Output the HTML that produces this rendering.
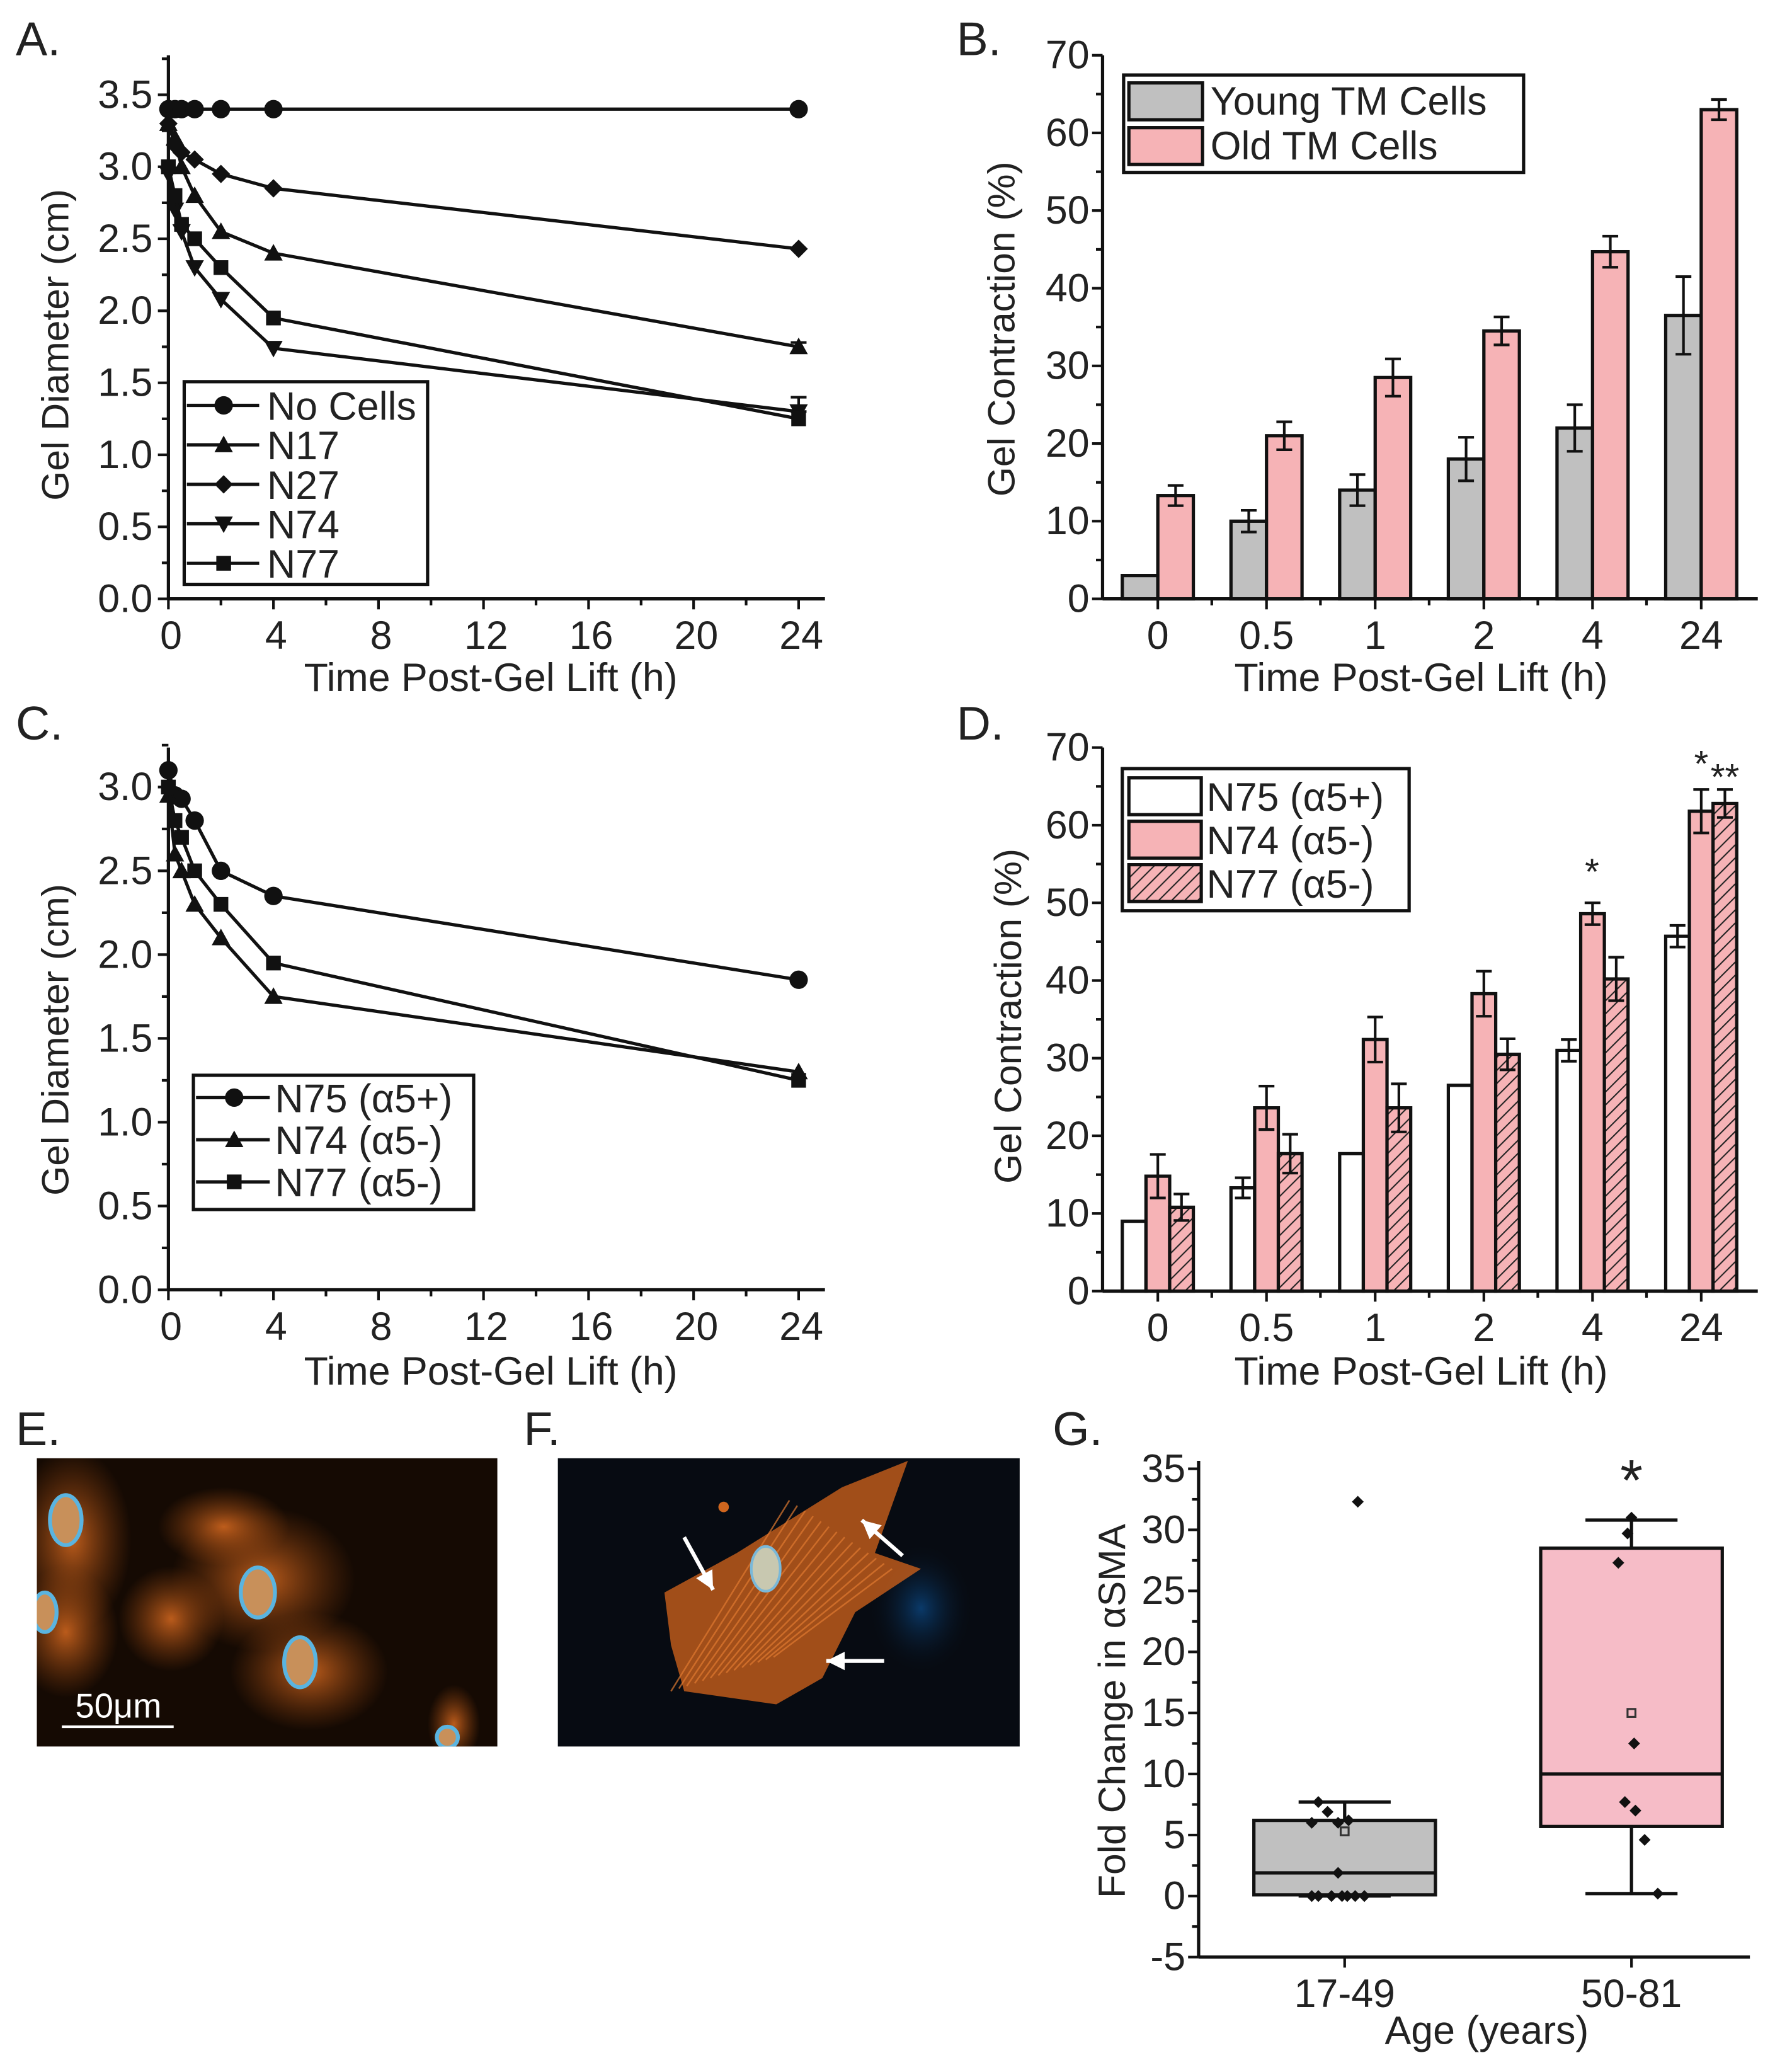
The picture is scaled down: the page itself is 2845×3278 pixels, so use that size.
<!DOCTYPE html>
<html><head><meta charset="utf-8"><style>
html,body{margin:0;padding:0;background:#fff;}
svg{display:block;}
text{font-family:"Liberation Sans",sans-serif;fill:#222;}
</style></head><body>
<svg id="fig" width="2845" height="3278" viewBox="0 0 1362 1569" preserveAspectRatio="none" xmlns="http://www.w3.org/2000/svg">
<defs>
<pattern id="hatch" patternUnits="userSpaceOnUse" width="7" height="7" patternTransform="rotate(45)">
<rect width="7" height="7" fill="#f6b3b6"/><line x1="0" y1="0" x2="0" y2="7" stroke="#222" stroke-width="2"/></pattern>
<radialGradient id="og" cx="50%" cy="50%" r="50%"><stop offset="0" stop-color="#d86a20" stop-opacity="0.85"/><stop offset="1" stop-color="#a04a10" stop-opacity="0"/></radialGradient>
<radialGradient id="bg2" cx="50%" cy="50%" r="50%"><stop offset="0" stop-color="#0a3a6a"/><stop offset="1" stop-color="#070c14" stop-opacity="0"/></radialGradient>
</defs>
<g id="root"></g>
</svg>
<script>
// ---- Panel A data ----
const timesA=[0,0.25,0.5,1,2,4,24];
const noCells=[3.4,3.4,3.4,3.4,3.4,3.4,3.4];
const n17=[3.3,3.2,3.0,2.8,2.55,2.4,1.75];
const n27=[3.3,3.15,3.1,3.05,2.95,2.85,2.43];
const n74=[2.95,2.7,2.55,2.3,2.08,1.74,1.3];
const n77=[3.0,2.8,2.6,2.5,2.3,1.95,1.25];
// ---- Panel C data ----
const n75c=[3.1,2.95,2.93,2.8,2.5,2.35,1.85];
const n74c=[2.95,2.6,2.5,2.3,2.1,1.75,1.3];
const n77c=[3.0,2.8,2.7,2.5,2.3,1.95,1.25];
// ---- Panel B data ----
const catsB=["0","0.5","1","2","4","24"];
const young=[3,10,14,18,22,36.5];
const youngErr=[0,1.4,2,2.8,3,5];
const old=[13.3,21,28.5,34.5,44.7,63];
const oldErr=[1.3,1.8,2.4,1.8,2,1.3];
// ---- Panel D data ----
const n75d=[9,13.3,17.7,26.5,31,45.7];
const n75dErr=[0,1.3,0,0,1.4,1.4];
const n74d=[14.8,23.6,32.4,38.3,48.6,61.8];
const n74dErr=[2.8,2.8,2.9,2.9,1.4,2.8];
const n77d=[10.8,17.7,23.6,30.5,40.2,62.8];
const n77dErr=[1.7,2.5,3.1,2,2.8,1.8];
// ---- Panel G data ----
const groupsG=["17-49","50-81"];
const q1=[0.1,5.7];
const q3=[6.2,28.5];
const med=[1.9,10];
const whiskLo=[0,0.2];
const whiskHi=[7.7,30.8];
const meanG=[5.3,15];
const pts1=[0,0,0,0,0,0,0,1.9,6,6,6.2,6.9,7.7,32.3];
const pts2=[0.2,4.6,7,7.7,12.5,27.3,29.7,31];

const NS="http://www.w3.org/2000/svg";
const root=document.getElementById('root');
function el(tag,attrs,parent,txt){const e=document.createElementNS(NS,tag);for(const k in attrs)e.setAttribute(k,attrs[k]);if(txt!==undefined)e.textContent=txt;(parent||root).appendChild(e);return e;}
function grp(name){const g=el('g',{});return g;}
function txt(g,x,y,s,size,anchor,name){const t=el('text',{x:x,y:y,'font-size':size,'text-anchor':anchor||'middle'},g,s);return t;}
function vtitle(g,cx,cy,s,name){const t=el('text',{x:0,y:0,'font-size':29,'text-anchor':'middle',transform:`translate(${cx} ${cy}) rotate(-90)`,'dominant-baseline':'central'},g,s);return t;}

function marker(g,type,x,y,r){
  r=r||7;
  if(type==='circle')return el('circle',{cx:x,cy:y,r:r,fill:'#111'},g);
  if(type==='up')return el('polygon',{points:`${x},${y-r} ${x+r},${y+r*0.8} ${x-r},${y+r*0.8}`,fill:'#111'},g);
  if(type==='down')return el('polygon',{points:`${x},${y+r} ${x+r},${y-r*0.8} ${x-r},${y-r*0.8}`,fill:'#111'},g);
  if(type==='diamond')return el('polygon',{points:`${x},${y-r} ${x+r},${y} ${x},${y+r} ${x-r},${y}`,fill:'#111'},g);
  if(type==='square')return el('rect',{x:x-r*0.8,y:y-r*0.8,width:r*1.6,height:r*1.6,fill:'#111'},g);
}

function lineAxes(g,x0,x1,yTop,y0,yMaxVal,yTicks,yStep){
  const sx=v=>x0+(v)*(607-x0)/24;
  const sy=v=>y0-v*(y0-yTop)/yMaxVal;
  el('line',{x1:x0,y1:y0,x2:x1,y2:y0,stroke:'#111','stroke-width':2.5},g);
  el('line',{x1:x0,y1:y0,x2:x0,y2:sy(yMaxVal)-30,stroke:'#111','stroke-width':2.5},g);
  for(let v=0;v<=24;v+=2){const x=sx(v);el('line',{x1:x,y1:y0,x2:x,y2:y0+(v%4===0?8:5),stroke:'#111','stroke-width':2},g);}
  [0,4,8,12,16,20,24].forEach(v=>txt(g,sx(v)+2,y0+38,String(v),30,'middle','x-tick-label'));
  yTicks.forEach(v=>{const y=sy(v);el('line',{x1:x0-8,y1:y,x2:x0,y2:y,stroke:'#111','stroke-width':2},g);el('line',{x1:x0-5,y1:sy(v+yStep/2),x2:x0,y2:sy(v+yStep/2),stroke:'#111','stroke-width':2},g);txt(g,x0-12,y+10,v.toFixed(1),30,'end','y-tick-label');});
  return {sx,sy};
}
function series(g,name,xs,ys,type,sx,sy){
  const s=el('g',{},g);
  el('polyline',{points:xs.map((x,i)=>sx(x)+','+sy(ys[i])).join(' '),fill:'none',stroke:'#111','stroke-width':2.5},s);
  xs.forEach((x,i)=>{const m=marker(s,type,sx(x),sy(ys[i]),7);});
}
function legendBox(g,x,y,w,h){el('rect',{x:x,y:y,width:w,height:h,fill:'#fff',stroke:'#111','stroke-width':2.5},g);}

// ===== Panel A =====
(function(){
  const g=grp('panel-a');
  txt(g,12,42,'A.',36,'start','panel-label-a');
  const {sx,sy}=lineAxes(g,128,627,72,455,3.5,[0,0.5,1,1.5,2,2.5,3,3.5],0.5);
  series(g,'series-no-cells',timesA,noCells,'circle',sx,sy);
  series(g,'series-n17',timesA,n17,'up',sx,sy);
  series(g,'series-n27',timesA,n27,'diamond',sx,sy);
  series(g,'series-n74',timesA,n74,'down',sx,sy);
  series(g,'series-n77',timesA,n77,'square',sx,sy);
  [[n74,0.1],[n77,0.05],[n17,0.03]].forEach(([a,e])=>{const x=sx(24);el('line',{x1:x,y1:sy(a[6]+e),x2:x,y2:sy(a[6]-e),stroke:'#111','stroke-width':2},g);el('line',{x1:x-6,y1:sy(a[6]+e),x2:x+6,y2:sy(a[6]+e),stroke:'#111','stroke-width':2},g);});
  vtitle(g,42,262,'Gel Diameter (cm)','y-axis-title');
  txt(g,373,525,'Time Post-Gel Lift (h)',30,'middle','x-axis-title');
  const L=grp('legend-a');legendBox(L,140,290,185,154);
  const items=[['No Cells','circle'],['N17','up'],['N27','diamond'],['N74','down'],['N77','square']];
  items.forEach((it,i)=>{const y=308+i*30;el('line',{x1:142,y1:y,x2:197,y2:y,stroke:'#111','stroke-width':2.5},L);marker(L,it[1],170,y,7);txt(L,203,y+11,it[0],30,'start','legend-entry');});
})();

// ===== Panel C =====
(function(){
  const g=grp('panel-c');
  txt(g,12,562,'C.',36,'start','panel-label-c');
  const {sx,sy}=lineAxes(g,128,627,598,980,3.0,[0,0.5,1,1.5,2,2.5,3],0.5);
  series(g,'series-n75',timesA,n75c,'circle',sx,sy);
  series(g,'series-n74',timesA,n74c,'up',sx,sy);
  series(g,'series-n77',timesA,n77c,'square',sx,sy);
  vtitle(g,42,790,'Gel Diameter (cm)','y-axis-title');
  txt(g,373,1052,'Time Post-Gel Lift (h)',30,'middle','x-axis-title');
  const L=grp('legend-c');legendBox(L,147,817,213,102);
  [['N75 (α5+)','circle'],['N74 (α5-)','up'],['N77 (α5-)','square']].forEach((it,i)=>{const y=834+i*32;el('line',{x1:149,y1:y,x2:205,y2:y,stroke:'#111','stroke-width':2.5},L);marker(L,it[1],178,y,7);txt(L,209,y+11,it[0],30,'start','legend-entry');});
})();

function barAxes(g,y0,yTop){
  const x0=838,x1=1336;
  const sy=v=>y0-v*(y0-yTop)/70;
  const cx=i=>880+i*82.6;
  el('line',{x1:x0,y1:y0,x2:x1,y2:y0,stroke:'#111','stroke-width':2.5},g);
  el('line',{x1:x0,y1:y0,x2:x0,y2:yTop,stroke:'#111','stroke-width':2.5},g);
  for(let v=0;v<=70;v+=10){const y=sy(v);el('line',{x1:x0-8,y1:y,x2:x0,y2:y,stroke:'#111','stroke-width':2},g);if(v<70)el('line',{x1:x0-5,y1:sy(v+5),x2:x0,y2:sy(v+5),stroke:'#111','stroke-width':2},g);txt(g,x0-10,y+10,String(v),30,'end','y-tick-label');}
  catsB.forEach((c,i)=>{el('line',{x1:cx(i),y1:y0,x2:cx(i),y2:y0+8,stroke:'#111','stroke-width':2},g);if(i<5)el('line',{x1:cx(i)+41,y1:y0,x2:cx(i)+41,y2:y0+5,stroke:'#111','stroke-width':2},g);txt(g,cx(i),y0+38,c,30,'middle','x-tick-label');});
  return {sy,cx};
}
function bar(g,name,x,w,v,err,fill,sy,y0){
  const b=el('rect',{x:x,y:sy(v),width:w,height:y0-sy(v),fill:fill,stroke:'#111','stroke-width':2.5},g);
  
  if(err>0){const c=x+w/2;el('line',{x1:c,y1:sy(v+err),x2:c,y2:sy(v-err),stroke:'#111','stroke-width':2},g);[v+err,v-err].forEach(e=>el('line',{x1:c-6,y1:sy(e),x2:c+6,y2:sy(e),stroke:'#111','stroke-width':2},g));}
}

// ===== Panel B =====
(function(){
  const g=grp('panel-b');
  txt(g,727,42,'B.',36,'start','panel-label-b');
  const y0=455;const {sy,cx}=barAxes(g,y0,42);
  catsB.forEach((c,i)=>{bar(g,'bar-young-'+c,cx(i)-27,27,young[i],youngErr[i],'#c0c0c0',sy,y0);bar(g,'bar-old-'+c,cx(i),27,old[i],oldErr[i],'#f6b3b6',sy,y0);});
  vtitle(g,761,250,'Gel Contraction (%)','y-axis-title');
  txt(g,1080,525,'Time Post-Gel Lift (h)',30,'middle','x-axis-title');
  const L=grp('legend-b');legendBox(L,854,57,304,74);
  el('rect',{x:858,y:63,width:56,height:28,fill:'#c0c0c0',stroke:'#111','stroke-width':2.5},L);
  el('rect',{x:858,y:97,width:56,height:28,fill:'#f6b3b6',stroke:'#111','stroke-width':2.5},L);
  txt(L,920,87,'Young TM Cells',30,'start','legend-entry');
  txt(L,920,121,'Old TM Cells',30,'start','legend-entry');
})();

// ===== Panel D =====
(function(){
  const g=grp('panel-d');
  txt(g,727,562,'D.',36,'start','panel-label-d');
  const y0=981;const {sy,cx}=barAxes(g,y0,568);
  catsB.forEach((c,i)=>{const w=18;bar(g,'bar-n75-'+c,cx(i)-27,w,n75d[i],n75dErr[i],'#fff',sy,y0);bar(g,'bar-n74-'+c,cx(i)-9,w,n74d[i],n74dErr[i],'#f6b3b6',sy,y0);bar(g,'bar-n77-'+c,cx(i)+9,w,n77d[i],n77dErr[i],'url(#hatch)',sy,y0);});
  txt(g,1210,672,'*',28,'middle','significance-star');
  txt(g,1293,590,'*',28,'middle','significance-star');
  txt(g,1311,600,'**',28,'middle','significance-star');
  vtitle(g,766,772,'Gel Contraction (%)','y-axis-title');
  txt(g,1080,1052,'Time Post-Gel Lift (h)',30,'middle','x-axis-title');
  const L=grp('legend-d');legendBox(L,853,584,218,108);
  [['N75 (α5+)','#fff'],['N74 (α5-)','#f6b3b6'],['N77 (α5-)','url(#hatch)']].forEach((it,i)=>{const y=591+i*33;el('rect',{x:858,y:y,width:55,height:28,fill:it[1],stroke:'#111','stroke-width':2.5},L);txt(L,917,y+25,it[0],30,'start','legend-entry');});
})();

// ===== Panel E & F =====
(function(){
  const g=grp('panel-e');
  txt(g,12,1098,'E.',36,'start','panel-label-e');
  const im=el('g',{},g);
  el('clipPath',{id:'clipE'},im);
  document.getElementById('clipE').appendChild(el('rect',{x:28,y:1108,width:350,height:219},document.getElementById('clipE')));
  el('rect',{x:28,y:1108,width:350,height:219,fill:'#150a03'},im);
  const ce=el('g',{'clip-path':'url(#clipE)'},im);
  [[55,1170,45,70],[200,1200,70,55],[235,1270,60,45],[50,1240,40,50],[130,1230,40,40],[345,1310,20,30],[170,1160,50,30]].forEach(b=>el('ellipse',{cx:b[0],cy:b[1],rx:b[2],ry:b[3],fill:'url(#og)'},ce));
  [[50,1155,12,19],[196,1210,13,19],[228,1263,12,19],[34,1225,9,15],[340,1320,8,8]].forEach(n=>el('ellipse',{cx:n[0],cy:n[1],rx:n[2],ry:n[3],fill:'#c8905a',stroke:'#5ab4e0','stroke-width':3},ce));
  el('line',{x1:47,y1:1312,x2:132,y2:1312,stroke:'#fff','stroke-width':2},im);
  txt(im,90,1305,'50μm',26,'middle','scale-bar-label').setAttribute('style','fill:#fff');
  const g2=grp('panel-f');
  txt(g2,398,1098,'F.',36,'start','panel-label-f');
  const im2=el('g',{},g2);
  el('rect',{x:424,y:1108,width:351,height:219,fill:'#070b12'},im2);
  el('ellipse',{cx:700,cy:1222,rx:40,ry:50,fill:'url(#bg2)'},im2);
  el('path',{d:'M505 1210 L560 1180 L640 1130 L690 1110 L665 1180 L700 1192 L650 1225 L625 1275 L590 1295 L520 1285 L510 1250 Z',fill:'#c85f1c',opacity:0.8},im2);
  for(let k=0;k<14;k++){el('line',{x1:510+k*6,y1:1285-k*2,x2:600+k*6,y2:1140+k*4,stroke:'#e07a30','stroke-width':1.2,opacity:0.7},im2);}
  el('ellipse',{cx:582,cy:1192,rx:11,ry:17,fill:'#c8c8b0',stroke:'#7ab8d8','stroke-width':2},im2);
  el('circle',{cx:550,cy:1145,r:4,fill:'#d0661e'},im2);
  [[520,1168,542,1208],[686,1182,655,1155],[672,1262,628,1262]].forEach(a=>{const ar=el('line',{x1:a[0],y1:a[1],x2:a[2],y2:a[3],stroke:'#fff','stroke-width':3},im2);
    const dx=a[2]-a[0],dy=a[3]-a[1],L=Math.hypot(dx,dy),ux=dx/L,uy=dy/L;const bx=a[2]-ux*14,by=a[3]-uy*14;
    el('polygon',{points:`${a[2]},${a[3]} ${bx-uy*7},${by+ux*7} ${bx+uy*7},${by-ux*7}`,fill:'#fff'},im2);});
})();

// ===== Panel G =====
(function(){
  const g=grp('panel-g');
  txt(g,800,1098,'G.',36,'start','panel-label-g');
  const x0=911,x1=1330,y0=1487;
  const sy=v=>y0-(v+5)*(y0-1116)/40;
  const cx=[1022,1240];
  el('line',{x1:x0,y1:y0,x2:x1,y2:y0,stroke:'#111','stroke-width':2.5},g);
  el('line',{x1:x0,y1:y0,x2:x0,y2:1110,stroke:'#111','stroke-width':2.5},g);
  for(let v=-5;v<=35;v+=5){const y=sy(v);el('line',{x1:x0-8,y1:y,x2:x0,y2:y,stroke:'#111','stroke-width':2},g);if(v<35)el('line',{x1:x0-5,y1:sy(v+2.5),x2:x0,y2:sy(v+2.5),stroke:'#111','stroke-width':2},g);txt(g,x0-10,y+10,String(v),30,'end','y-tick-label');}
  const fills=['#c0c0c0','#f6bcc7'];
  groupsG.forEach((lab,i)=>{
    const c=cx[i];
    el('line',{x1:c,y1:y0,x2:c,y2:y0+8,stroke:'#111','stroke-width':2},g);
    txt(g,c,y0+38,lab,30,'middle','x-tick-label');
    const b=grp('box-'+lab);g.appendChild(b);
    el('line',{x1:c,y1:sy(whiskHi[i]),x2:c,y2:sy(whiskLo[i]),stroke:'#111','stroke-width':2.5},b);
    [whiskHi[i],whiskLo[i]].forEach(v=>el('line',{x1:c-35,y1:sy(v),x2:c+35,y2:sy(v),stroke:'#111','stroke-width':2.5},b));
    el('rect',{x:c-69,y:sy(q3[i]),width:138,height:sy(q1[i])-sy(q3[i]),fill:fills[i],stroke:'#111','stroke-width':2.5},b);
    el('line',{x1:c-69,y1:sy(med[i]),x2:c+69,y2:sy(med[i]),stroke:'#111','stroke-width':2.5},b);
    el('rect',{x:c-3,y:sy(meanG[i])-3,width:6,height:6,fill:'none',stroke:'#333','stroke-width':1.5},b);
  });
  const off1=[-25,-20,-10,-2,2,8,15,-5,-25,-5,3,-13,-20,10];
  pts1.forEach((v,j)=>{const m=marker(g,'diamond',cx[0]+off1[j],sy(v),4.5);});
  const off2=[20,10,3,-5,2,-10,-3,0];
  pts2.forEach((v,j)=>{const m=marker(g,'diamond',cx[1]+off2[j],sy(v),4.5);});
  txt(g,1240,1140,'*',44,'middle','significance-star');
  vtitle(g,845,1300,'Fold Change in αSMA','y-axis-title');
  txt(g,1130,1553,'Age (years)',30,'middle','x-axis-title');
})();
</script>
</body></html>
